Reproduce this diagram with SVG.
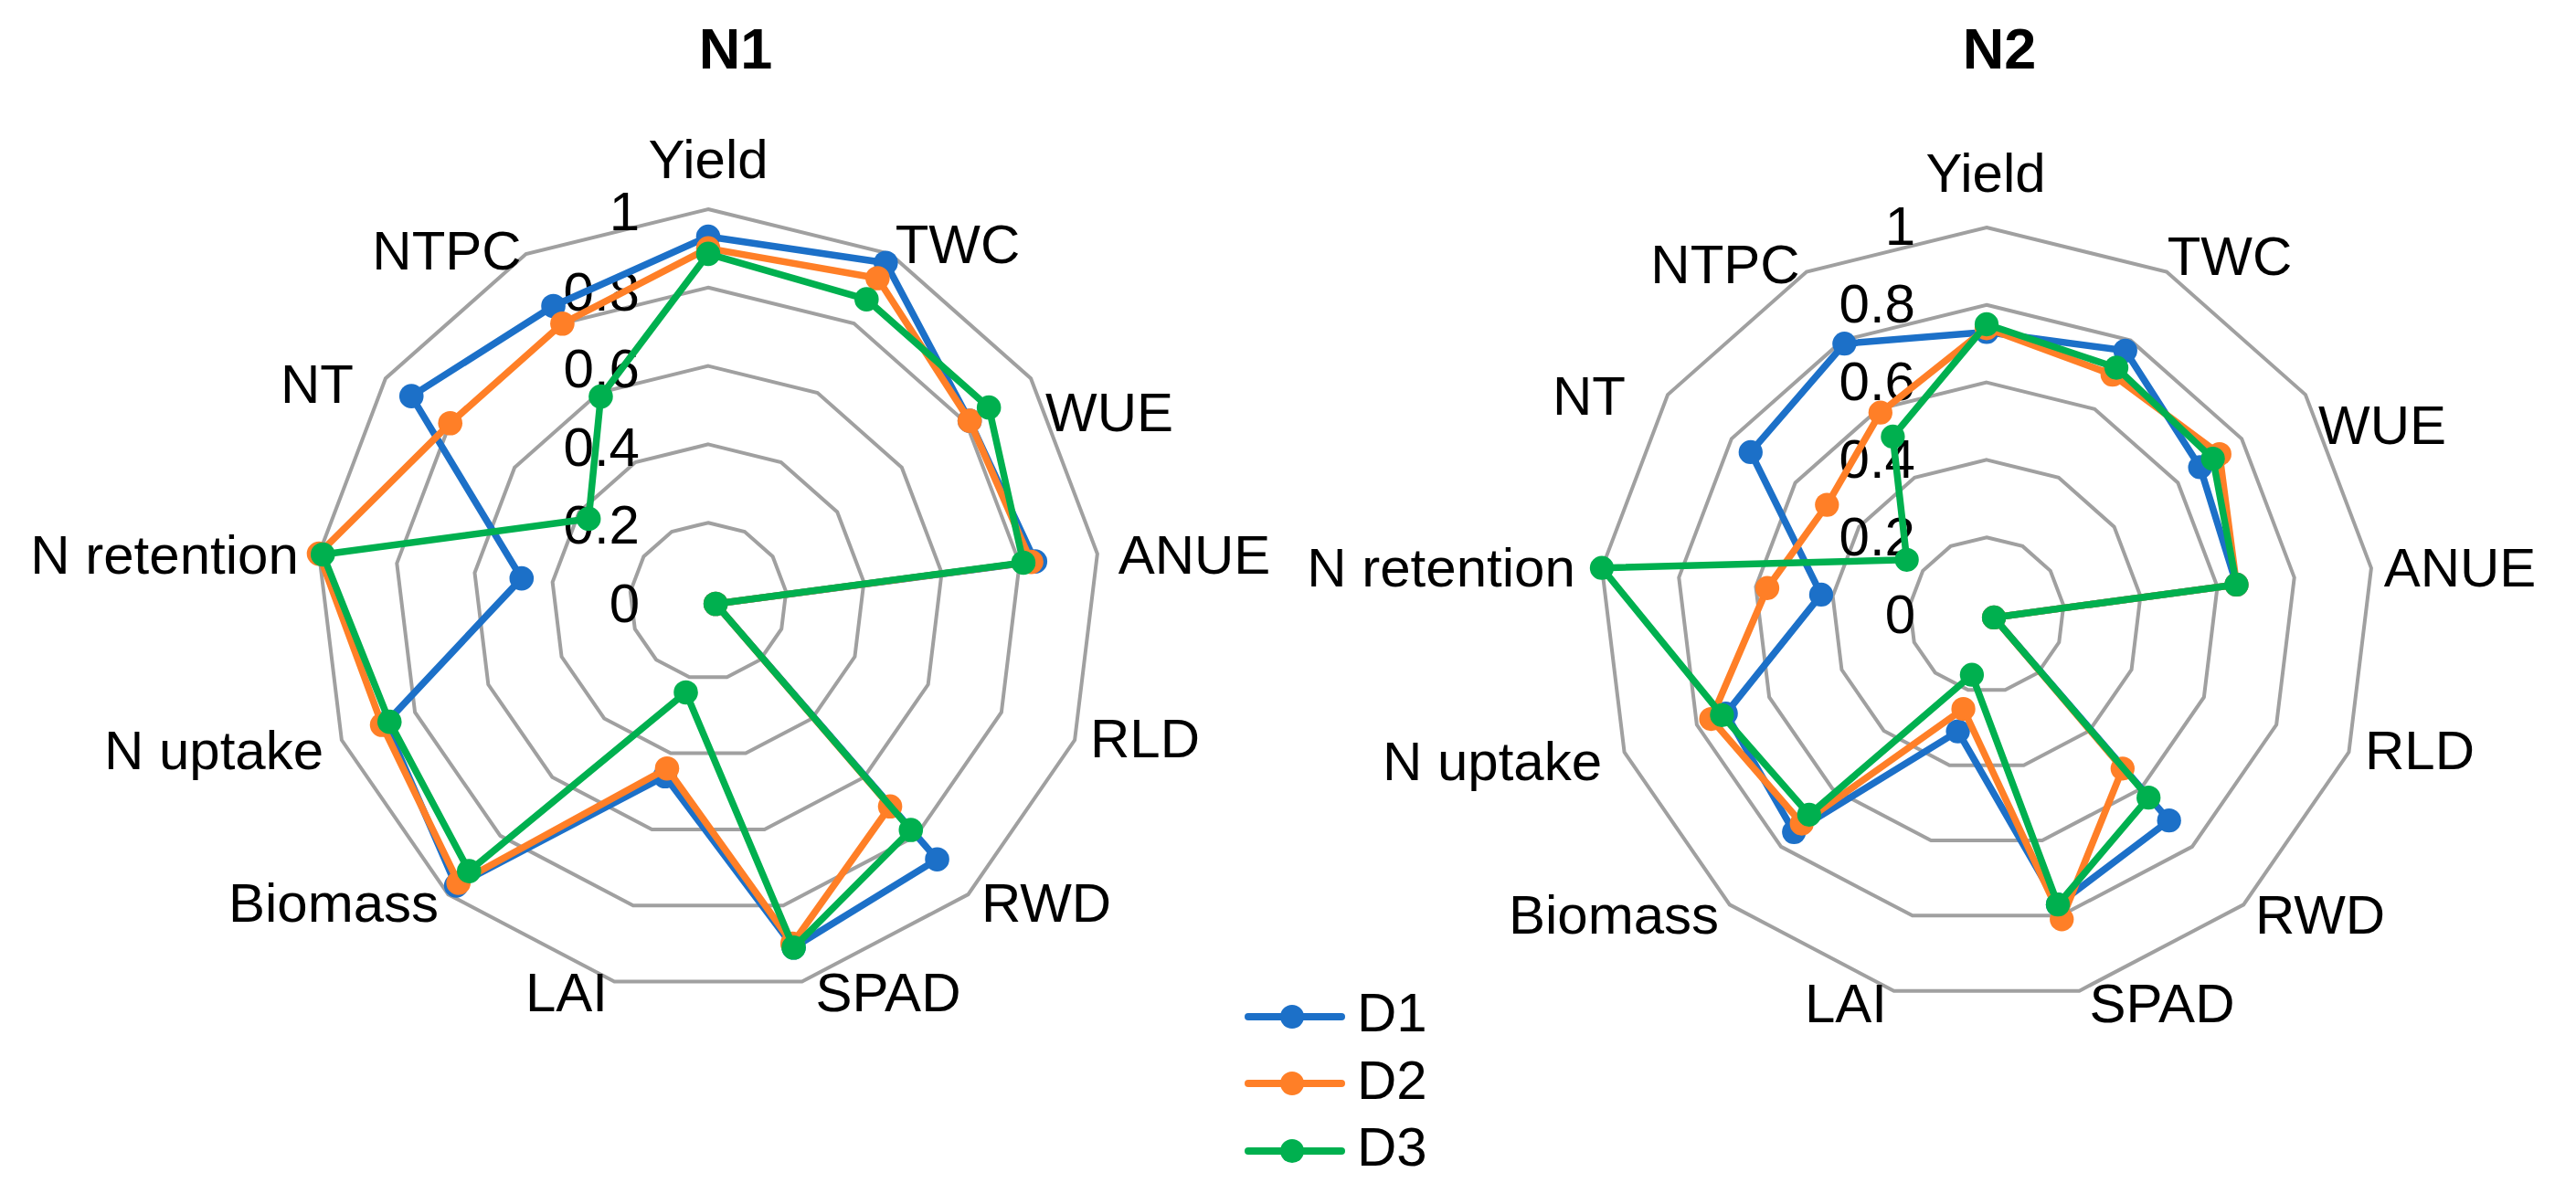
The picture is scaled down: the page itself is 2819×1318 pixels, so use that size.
<svg xmlns="http://www.w3.org/2000/svg" width="2819" height="1318" viewBox="0 0 2819 1318">
<style>
text{font-family:"Liberation Sans",Arial,sans-serif;font-size:60px;fill:#000}
.t{font-weight:bold;font-size:63px;text-anchor:middle}
.l{text-anchor:middle}
.k{text-anchor:end}
.g{fill:none;stroke:#a0a0a0;stroke-width:4;vector-effect:non-scaling-stroke}
.s{fill:none;stroke-width:7.5;stroke-linejoin:round;vector-effect:non-scaling-stroke}
.d1{stroke:#1c70c8}.d2{stroke:#ff7f27}.d3{stroke:#00b04f}
.m1{marker-start:url(#m1);marker-mid:url(#m1)}
.m2{marker-start:url(#m2);marker-mid:url(#m2)}
.m3{marker-start:url(#m3);marker-mid:url(#m3)}
</style>
<defs>
<polygon id="ring" class="g" points="0,-1 .4647,-.8855 .823,-.5681 .9927,-.1205 .935,.3546 .6631,.7485 .2393,.9709 -.2393,.9709 -.6631,.7485 -.935,.3546 -.9927,-.1205 -.823,-.5681 -.4647,-.8855"/>
<marker id="m1" markerUnits="userSpaceOnUse" markerWidth="1" markerHeight="1" refX="0" refY="0" overflow="visible"><circle r="0.031" fill="#1c70c8"/></marker>
<marker id="m2" markerUnits="userSpaceOnUse" markerWidth="1" markerHeight="1" refX="0" refY="0" overflow="visible"><circle r="0.031" fill="#ff7f27"/></marker>
<marker id="m3" markerUnits="userSpaceOnUse" markerWidth="1" markerHeight="1" refX="0" refY="0" overflow="visible"><circle r="0.031" fill="#00b04f"/></marker>
</defs>
<rect width="2819" height="1318" fill="#fff"/>

<g id="chart-N1">
<text class="t" x="805" y="75">N1</text>
<g transform="translate(775,658) scale(429)">
<use href="#ring" transform="scale(0.2)"/>
<use href="#ring" transform="scale(0.4)"/>
<use href="#ring" transform="scale(0.6)"/>
<use href="#ring" transform="scale(0.8)"/>
<use href="#ring"/>
</g>
<g class="k">
<text x="700" y="252">1</text><text x="700" y="340">0.8</text><text x="700" y="424">0.6</text><text x="700" y="510">0.4</text><text x="700" y="595">0.2</text><text x="700" y="681">0</text>
</g>
<g class="l">
<text x="775" y="195">Yield</text><text x="1048" y="288">TWC</text><text x="1214" y="472">WUE</text><text x="1307" y="628">ANUE</text><text x="1253" y="829">RLD</text><text x="1145" y="1009">RWD</text><text x="972" y="1107">SPAD</text><text x="620" y="1107">LAI</text><text x="365" y="1009">Biomass</text><text x="234" y="842">N uptake</text><text x="180" y="628">N retention</text><text x="347" y="441">NT</text><text x="489" y="295">NTPC</text>
</g>
</g>

<g id="chart-N2">
<text class="t" x="2188" y="75">N2</text>
<g transform="translate(2174,673) scale(424)">
<use href="#ring" transform="scale(0.2)"/>
<use href="#ring" transform="scale(0.4)"/>
<use href="#ring" transform="scale(0.6)"/>
<use href="#ring" transform="scale(0.8)"/>
<use href="#ring"/>
</g>
<g class="k">
<text x="2096" y="268">1</text><text x="2096" y="353">0.8</text><text x="2096" y="438">0.6</text><text x="2096" y="523">0.4</text><text x="2096" y="608">0.2</text><text x="2096" y="693">0</text>
</g>
<g class="l">
<text x="2173" y="210">Yield</text><text x="2440" y="301">TWC</text><text x="2607" y="486">WUE</text><text x="2692" y="642">ANUE</text><text x="2648" y="842">RLD</text><text x="2539" y="1022">RWD</text><text x="2366" y="1119">SPAD</text><text x="2020" y="1119">LAI</text><text x="1766" y="1022">Biomass</text><text x="1633" y="854">N uptake</text><text x="1577" y="642">N retention</text><text x="1739" y="454">NT</text><text x="1888" y="310">NTPC</text>
</g>
</g>

<g id="connectors">
<g transform="translate(775,658) scale(429)">
<polygon class="s d1 m1" points="0,-.93 .453,-.863 .667,-.46 .834,-.101 .019,.007 .584,.659 .218,.884 -.11,.447 -.643,.726 -.823,.312 -.476,-.058 -.757,-.523 -.395,-.753"/>
<polygon class="s d2 m2" points="0,-.9 .432,-.824 .667,-.46 .824,-.1 .019,.007 .464,.524 .215,.874 -.105,.427 -.637,.719 -.832,.316 -.993,-.121 -.658,-.454 -.372,-.708"/>
<polygon class="s d3 m3" points="0,-.886 .404,-.77 .716,-.494 .804,-.098 .019,.007 .517,.584 .218,.884 -.057,.233 -.61,.689 -.813,.308 -.983,-.119 -.305,-.21 -.274,-.522"/>
</g>
<g transform="translate(2174,673) scale(424)">
<polygon class="s d1 m1" points="0,-.73 .358,-.682 .551,-.381 .645,-.078 .019,.007 .471,.531 .184,.748 -.074,.301 -.497,.561 -.673,.255 -.427,-.052 -.609,-.42 -.367,-.7"/>
<polygon class="s d2 m2" points="0,-.74 .325,-.62 .601,-.415 .645,-.078 .019,.007 .351,.397 .194,.786 -.06,.243 -.477,.539 -.711,.269 -.566,-.069 -.412,-.284 -.274,-.522"/>
<polygon class="s d3 m3" points="0,-.75 .335,-.638 .584,-.403 .645,-.078 .019,.007 .418,.472 .184,.748 -.038,.155 -.458,.516 -.683,.259 -.993,-.121 -.206,-.142 -.242,-.46"/>
</g>
</g>

<g id="legend">
<line x1="1366" y1="1113" x2="1468" y2="1113" stroke="#1c70c8" stroke-width="8" stroke-linecap="round"/><circle cx="1414" cy="1113" r="13" fill="#1c70c8"/><text x="1485" y="1129">D1</text>
<line x1="1366" y1="1186" x2="1468" y2="1186" stroke="#ff7f27" stroke-width="8" stroke-linecap="round"/><circle cx="1414" cy="1186" r="13" fill="#ff7f27"/><text x="1485" y="1203">D2</text>
<line x1="1366" y1="1260" x2="1468" y2="1260" stroke="#00b04f" stroke-width="8" stroke-linecap="round"/><circle cx="1414" cy="1260" r="13" fill="#00b04f"/><text x="1485" y="1276">D3</text>
</g>
</svg>
